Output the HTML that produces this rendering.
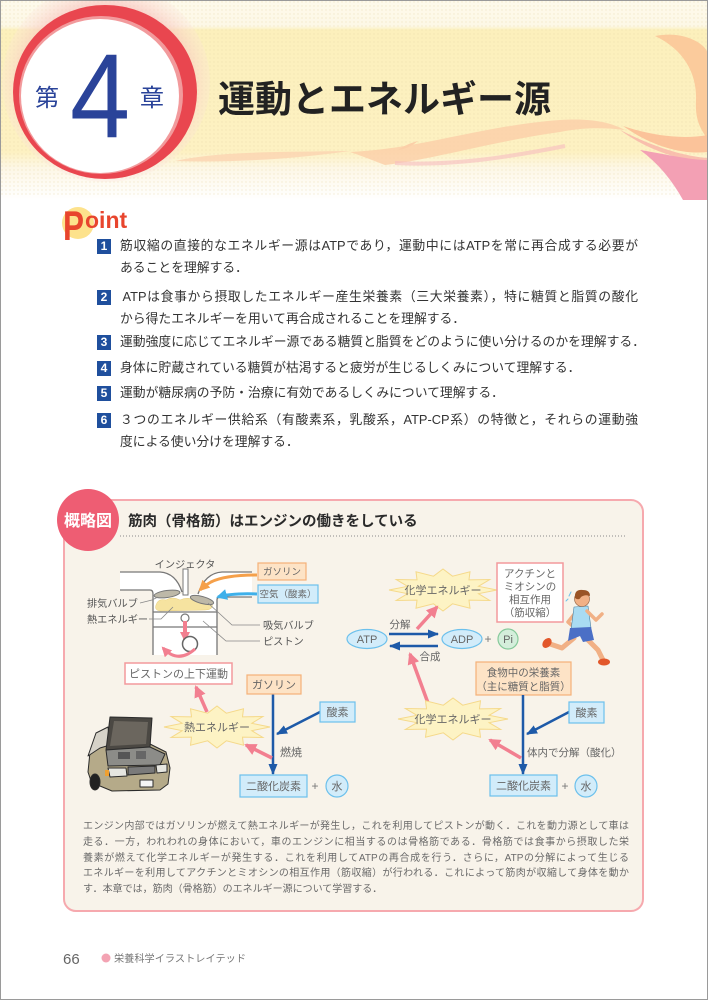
<!DOCTYPE html>
<html lang="ja"><head><meta charset="utf-8">
<style>
*{margin:0;padding:0;box-sizing:border-box}
html,body{width:708px;height:1000px;background:#fff;overflow:hidden}
body{position:relative;font-family:"Liberation Sans","Noto Sans CJK JP",sans-serif}
.frame{position:absolute;left:0;top:0;width:708px;height:1000px;border:1px solid #9a9a9a;pointer-events:none}
.pt{position:absolute;left:120px;font-size:12.8px;line-height:22px;color:#333;font-family:"Liberation Sans","Noto Sans CJK JP",sans-serif}
.j{text-align:justify;text-align-last:justify}
.nb{position:absolute;left:97px;width:14px;height:15px;background:#1f4f9d;color:#fff;font-weight:bold;font-size:12px;line-height:15px;text-align:center;font-family:"Liberation Sans",sans-serif}
.para{position:absolute;left:83px;font-size:10px;line-height:15.75px;color:#6a6a6a;font-family:"Liberation Sans","Noto Sans CJK JP",sans-serif}
svg text{font-family:"Liberation Sans","Noto Sans CJK JP",sans-serif}
</style></head>
<body>
<svg width="708" height="1000" style="position:absolute;left:0;top:0">
<defs>
 <linearGradient id="band" x1="0" y1="0" x2="0" y2="1">
  <stop offset="0" stop-color="#fefaec"/>
  <stop offset="0.13" stop-color="#fdf8e6"/>
  <stop offset="0.15" stop-color="#fcf0bc"/>
  <stop offset="0.76" stop-color="#fdf1c2"/>
  <stop offset="0.84" stop-color="#fdf7e6"/>
  <stop offset="1" stop-color="#ffffff"/>
 </linearGradient>
 <radialGradient id="glow" cx="0.5" cy="0.5" r="0.5">
  <stop offset="0.7" stop-color="#f6b6b2"/>
  <stop offset="1" stop-color="#fbe1da" stop-opacity="0.3"/>
 </radialGradient>
 <pattern id="dots" width="4" height="4" patternUnits="userSpaceOnUse"><circle cx="2" cy="2" r="0.7" fill="#e6d6a6" opacity="0.45"/></pattern>
 <marker id="mp" markerWidth="12" markerHeight="12" refX="10" refY="6" orient="auto" markerUnits="userSpaceOnUse"><path d="M0,0 L12,6 L0,12 z" fill="#f27f90"/></marker>
 <marker id="mb" markerWidth="11" markerHeight="9" refX="10" refY="4.5" orient="auto" markerUnits="userSpaceOnUse"><path d="M0,0 L11,4.5 L0,9 z" fill="#1e5aa8"/></marker>
 <marker id="mo" markerWidth="11" markerHeight="11" refX="9" refY="5.5" orient="auto" markerUnits="userSpaceOnUse"><path d="M0,0 L11,5.5 L0,11 z" fill="#f5a04a"/></marker>
 <marker id="ml" markerWidth="11" markerHeight="11" refX="9" refY="5.5" orient="auto" markerUnits="userSpaceOnUse"><path d="M0,0 L11,5.5 L0,11 z" fill="#3eb0ea"/></marker>
 <marker id="mp2" markerWidth="10" markerHeight="10" refX="8" refY="5" orient="auto" markerUnits="userSpaceOnUse"><path d="M0,0 L10,5 L0,10 z" fill="#f27f90"/></marker>
</defs>

<!-- HEADER -->
<rect x="0" y="0" width="708" height="200" fill="url(#band)"/>
<rect x="0" y="0" width="708" height="195" fill="url(#dots)"/>
<!-- wisps -->
<path d="M175,161 C220,151 285,152 350,151 C300,158 240,163 175,161 Z" fill="#fbd3b0" opacity="0.8"/>
<path d="M350,152 C420,149 480,126 560,120 C590,118 610,122 625,130 C600,127 580,128 560,132 C500,140 430,160 385,165 C372,160 362,156 350,152 Z" fill="#fbcea8" opacity="0.8"/>
<path d="M395,163 C450,166 505,158 565,146" fill="none" stroke="#f6bcc0" stroke-width="4" opacity="0.6"/>
<path d="M398,150 C404,146 410,143 418,141 C412,146 406,149 398,150 Z" fill="#fbcfa8"/>
<!-- right decorations -->
<path d="M655,36 C685,30 708,45 708,55 L708,140 C700,128 695,120 696,100 C697,75 685,50 655,36 Z" fill="#fbcb9c"/>
<path d="M623,126 C650,135 680,140 708,135 L708,152 C680,155 650,145 623,126 Z" fill="#fbc39a"/>
<path d="M620,130 C650,145 680,156 708,158 L708,162 C675,160 645,148 620,130 Z" fill="#f7b3a8" opacity="0.8"/>
<path d="M640,150 C670,155 690,160 708,160 L708,200 L683,200 C672,180 658,163 640,150 Z" fill="#f3a0b4"/>
<!-- chapter circle -->
<ellipse cx="106" cy="82" rx="104" ry="100" fill="url(#glow)" opacity="0.8"/>
<ellipse cx="105" cy="92" rx="92" ry="87" fill="#e9464f"/>
<ellipse cx="101" cy="95" rx="82" ry="79" fill="#f29a9c"/>
<ellipse cx="100" cy="96" rx="79" ry="77" fill="#ffffff"/>
<text x="35" y="106" font-size="24" fill="#2a4399">第</text>
<text transform="translate(70,137) scale(0.9,1)" font-size="120" fill="#2a4399" style="font-family:'Liberation Sans',sans-serif">4</text>
<text x="140" y="106" font-size="24" fill="#2a4399">章</text>
<text x="218" y="112" font-size="37" font-weight="bold" fill="#222">運動とエネルギー源</text>

<!-- POINT LOGO -->
<circle cx="78" cy="223" r="16" fill="#fde28c"/>
<text transform="translate(63,240) scale(0.75,1)" font-size="42" font-weight="bold" fill="#e8452d">P</text>
<text x="85" y="228" font-size="23" font-weight="bold" fill="#e8452d">oint</text>

<!-- DIAGRAM BOX -->
<rect x="64" y="500" width="579" height="411" rx="12" fill="#f8f3ea" stroke="#f6a9ae" stroke-width="2"/>
<circle cx="88" cy="520" r="31" fill="#ee5d73"/>
<text x="88" y="526" font-size="16" font-weight="bold" fill="#fff" text-anchor="middle">概略図</text>
<text x="128" y="526" font-size="14.5" font-weight="bold" fill="#2a2a2a">筋肉（骨格筋）はエンジンの働きをしている</text>
<line x1="120" y1="536" x2="627" y2="536" stroke="#8a8a8a" stroke-width="1" stroke-dasharray="1 2"/>

<!-- ENGINE -->
<g>
 <path d="M120,572 L160,572 Q176,573 182,592 L153,594 L153,590 L120,590 Z" fill="#fff"/>
 <path d="M252,572 L222,572 Q205,573 198,594 L217,600 L217,597 L252,597 Z" fill="#fff"/>
 <rect x="153" y="594" width="64" height="61" fill="#fff"/>
 <path d="M156,605 Q158,598 166,600 Q172,596 180,600 Q188,596 196,601 Q204,598 212,603 Q214,610 205,610 L160,611 Q154,610 156,605 Z" fill="#f6e3a0" stroke="#e8cf80" stroke-width="0.5"/>
 <g fill="none" stroke="#777" stroke-width="1.3">
  <path d="M120,572 L160,572 Q176,573 182,592"/>
  <path d="M120,590 L150,590 Q153,590 153,594 L153,655"/>
  <path d="M252,572 L222,572 Q205,573 198,594"/>
  <path d="M252,597 L220,597 Q217,597 217,600 L217,655"/>
  <line x1="153" y1="612" x2="217" y2="612"/>
  <line x1="153" y1="627" x2="217" y2="627"/>
 </g>
 <rect x="183" y="569" width="5" height="26" fill="#fff" stroke="#777" stroke-width="1"/>
 <ellipse cx="167" cy="594" rx="13" ry="3.5" transform="rotate(-8 167 594)" fill="#bdb8a8" stroke="#777" stroke-width="1"/>
 <ellipse cx="202" cy="600" rx="12" ry="3.5" transform="rotate(15 202 600)" fill="#bdb8a8" stroke="#777" stroke-width="1"/>
 <circle cx="185" cy="618" r="4" fill="#fff" stroke="#777" stroke-width="1.2"/>
 <line x1="185" y1="621" x2="185" y2="640" stroke="#f27f90" stroke-width="4" marker-end="url(#mp2)"/>
 <path d="M186,641 A8,8 0 0 0 186,649 Z" fill="#333"/>
 <circle cx="190" cy="644" r="7.5" fill="#fff" stroke="#666" stroke-width="1.5"/>
 <path d="M195,649 Q178,664 163,648" fill="none" stroke="#f27f90" stroke-width="3" marker-end="url(#mp2)"/>
 <g fill="none" stroke="#888" stroke-width="0.8">
  <path d="M140,603 L152,600 L158,597"/>
  <path d="M149,619 L161,619 L173,607"/>
  <path d="M260,625 L232,625 L208,603"/>
  <path d="M260,641 L226,641 L203,621"/>
 </g>
 <path d="M257,575 Q225,575 211,582 Q204,586 200,590" fill="none" stroke="#f5a04a" stroke-width="3" marker-end="url(#mo)"/>
 <path d="M257,594 Q232,593 218,597" fill="none" stroke="#3eb0ea" stroke-width="3" marker-end="url(#ml)"/>
 <rect x="258" y="563" width="48" height="17" fill="#fde3c6" stroke="#f4b178" stroke-width="1.2"/>
 <text x="282" y="575" font-size="9.5" fill="#666" text-anchor="middle">ガソリン</text>
 <rect x="258" y="585" width="60" height="18" fill="#d2ecfa" stroke="#6cc0ec" stroke-width="1.2"/>
 <text x="288" y="597.5" font-size="9.5" fill="#666" text-anchor="middle">空気（酸素）</text>
 <g font-size="10.2" fill="#555">
  <text x="185" y="568" text-anchor="middle">インジェクタ</text>
  <text x="87" y="607">排気バルブ</text>
  <text x="87" y="623">熱エネルギー</text>
  <text x="263" y="629">吸気バルブ</text>
  <text x="263" y="645">ピストン</text>
 </g>
</g>

<!-- LEFT FLOW -->
<rect x="125" y="663" width="107" height="21" fill="#fff" stroke="#f3999c" stroke-width="1.5"/>
<text x="178.5" y="677.5" font-size="11" fill="#666" text-anchor="middle">ピストンの上下運動</text>
<line x1="207" y1="712" x2="196" y2="687" stroke="#f27f90" stroke-width="3.5" marker-end="url(#mp)"/>
<polygon transform="translate(217,727) scale(53,21)" vector-effect="non-scaling-stroke" points="1,0 0.657,0.176 0.866,0.5 0.481,0.481 0.5,0.866 0.176,0.657 0,1 -0.176,0.657 -0.5,0.866 -0.481,0.481 -0.866,0.5 -0.657,0.176 -1,0 -0.657,-0.176 -0.866,-0.5 -0.481,-0.481 -0.5,-0.866 -0.176,-0.657 0,-1 0.176,-0.657 0.5,-0.866 0.481,-0.481 0.866,-0.5 0.657,-0.176" fill="#fdf3c4" stroke="#f5d98a" stroke-width="1"/>
<text x="217" y="731" font-size="11" fill="#666" text-anchor="middle">熱エネルギー</text>
<line x1="273" y1="694" x2="273" y2="774" stroke="#1e5aa8" stroke-width="2.5" marker-end="url(#mb)"/>
<line x1="320" y1="712" x2="277" y2="734" stroke="#1e5aa8" stroke-width="2.5" marker-end="url(#mb)"/>
<line x1="272" y1="758" x2="246" y2="745" stroke="#f27f90" stroke-width="3.5" marker-end="url(#mp)"/>
<rect x="247" y="675" width="54" height="19" fill="#fde3c6" stroke="#f4b178" stroke-width="1.2"/>
<text x="274" y="688.5" font-size="11" fill="#666" text-anchor="middle">ガソリン</text>
<rect x="320" y="702" width="35" height="20" fill="#d2ecfa" stroke="#6cc0ec" stroke-width="1.2"/>
<text x="337.5" y="716" font-size="11" fill="#666" text-anchor="middle">酸素</text>
<text x="280" y="756" font-size="11" fill="#666">燃焼</text>
<rect x="240" y="775" width="67" height="22" fill="#d2ecfa" stroke="#6cc0ec" stroke-width="1.2"/>
<text x="273.5" y="790" font-size="11" fill="#666" text-anchor="middle">二酸化炭素</text>
<text x="315" y="790" font-size="12" fill="#777" text-anchor="middle">+</text>
<circle cx="337" cy="786" r="11" fill="#d2ecfa" stroke="#6cc0ec" stroke-width="1.2"/>
<text x="337" y="790" font-size="11" fill="#666" text-anchor="middle">水</text>

<!-- CAR -->
<g stroke="#2b2b2b" stroke-width="1" stroke-linejoin="round">
 <path d="M88,772 L90,752 L100,740 L112,745 L150,744 L166,752 L170,768 L168,784 L160,790 L112,791 L100,786 L92,784 Z" fill="#b5aa89"/>
 <path d="M88,756 L96,733 L108,727 L110,745 L100,748 Z" fill="#d6d2c8"/>
 <path d="M110,717 L152,718 L150,747 L106,750 Z" fill="#4b4843"/>
 <path d="M114,721 L148,722 L146,744 L110,746 Z" fill="#6b665e" stroke="none"/>
 <path d="M106,750 L150,747 L165,754 L160,765 L108,766 Z" fill="#8c8c88"/>
 <rect x="118" y="752" width="12" height="7" fill="#555" stroke="none"/>
 <rect x="136" y="751" width="10" height="8" fill="#666" stroke="none"/>
 <path d="M108,768 L126,768 L127,776 L110,777 Z" fill="#e6e6e0"/>
 <path d="M156,765 L167,764 L167,772 L157,773 Z" fill="#e6e6e0"/>
 <rect x="105" y="770" width="4" height="6" fill="#f0a030" stroke="none"/>
 <path d="M128,767 L155,766 L155,773 L128,775 Z" fill="#7a7a7a"/>
 <rect x="140" y="780" width="13" height="7" fill="#f5f5f5"/>
 <ellipse cx="95" cy="782" rx="5" ry="8" fill="#222"/>
</g>

<!-- RIGHT FLOW -->
<polygon transform="translate(443,590) scale(54,21)" vector-effect="non-scaling-stroke" points="1,0 0.657,0.176 0.866,0.5 0.481,0.481 0.5,0.866 0.176,0.657 0,1 -0.176,0.657 -0.5,0.866 -0.481,0.481 -0.866,0.5 -0.657,0.176 -1,0 -0.657,-0.176 -0.866,-0.5 -0.481,-0.481 -0.5,-0.866 -0.176,-0.657 0,-1 0.176,-0.657 0.5,-0.866 0.481,-0.481 0.866,-0.5 0.657,-0.176" fill="#fdf3c4" stroke="#f5d98a" stroke-width="1"/>
<text x="443" y="594" font-size="11" fill="#666" text-anchor="middle">化学エネルギー</text>
<rect x="497" y="563" width="66" height="59" fill="#fff" stroke="#f3999c" stroke-width="1.5"/>
<g font-size="10.5" fill="#666" text-anchor="middle">
 <text x="530" y="577">アクチンと</text>
 <text x="530" y="590">ミオシンの</text>
 <text x="530" y="603">相互作用</text>
 <text x="530" y="616">（筋収縮）</text>
</g>
<line x1="417" y1="629" x2="437" y2="607" stroke="#f27f90" stroke-width="3.5" marker-end="url(#mp)"/>
<text x="400" y="628" font-size="10.5" fill="#666" text-anchor="middle">分解</text>
<ellipse cx="367" cy="639" rx="20" ry="9.5" fill="#d2ecfa" stroke="#6cc0ec" stroke-width="1.2"/>
<text x="367" y="643" font-size="11" fill="#666" text-anchor="middle">ATP</text>
<line x1="389" y1="634" x2="438" y2="634" stroke="#1e5aa8" stroke-width="2.5" marker-end="url(#mb)"/>
<line x1="438" y1="646" x2="390" y2="646" stroke="#1e5aa8" stroke-width="2.5" marker-end="url(#mb)"/>
<ellipse cx="462" cy="639" rx="20" ry="9.5" fill="#d2ecfa" stroke="#6cc0ec" stroke-width="1.2"/>
<text x="462" y="643" font-size="11" fill="#666" text-anchor="middle">ADP</text>
<text x="488" y="643" font-size="12" fill="#777" text-anchor="middle">+</text>
<circle cx="508" cy="639" r="10" fill="#d4eedb" stroke="#86c99a" stroke-width="1.2"/>
<text x="508" y="643" font-size="11" fill="#666" text-anchor="middle">Pi</text>
<text x="430" y="660" font-size="10.5" fill="#666" text-anchor="middle">合成</text>
<line x1="428" y1="703" x2="410" y2="654" stroke="#f27f90" stroke-width="3.5" marker-end="url(#mp)"/>

<rect x="476" y="662" width="95" height="33" fill="#fde3c6" stroke="#f4b178" stroke-width="1.2"/>
<text x="523.5" y="676" font-size="10.5" fill="#666" text-anchor="middle">食物中の栄養素</text>
<text x="523.5" y="690" font-size="10.5" fill="#666" text-anchor="middle">（主に糖質と脂質）</text>
<polygon transform="translate(453,719) scale(55,21)" vector-effect="non-scaling-stroke" points="1,0 0.657,0.176 0.866,0.5 0.481,0.481 0.5,0.866 0.176,0.657 0,1 -0.176,0.657 -0.5,0.866 -0.481,0.481 -0.866,0.5 -0.657,0.176 -1,0 -0.657,-0.176 -0.866,-0.5 -0.481,-0.481 -0.5,-0.866 -0.176,-0.657 0,-1 0.176,-0.657 0.5,-0.866 0.481,-0.481 0.866,-0.5 0.657,-0.176" fill="#fdf3c4" stroke="#f5d98a" stroke-width="1"/>
<text x="453" y="723" font-size="11" fill="#666" text-anchor="middle">化学エネルギー</text>
<line x1="523" y1="695" x2="523" y2="774" stroke="#1e5aa8" stroke-width="2.5" marker-end="url(#mb)"/>
<line x1="569" y1="712" x2="527" y2="734" stroke="#1e5aa8" stroke-width="2.5" marker-end="url(#mb)"/>
<line x1="521" y1="758" x2="490" y2="740" stroke="#f27f90" stroke-width="3.5" marker-end="url(#mp)"/>
<rect x="569" y="702" width="35" height="21" fill="#d2ecfa" stroke="#6cc0ec" stroke-width="1.2"/>
<text x="586.5" y="716.5" font-size="11" fill="#666" text-anchor="middle">酸素</text>
<text x="527" y="756" font-size="10.5" fill="#666">体内で分解（酸化）</text>
<rect x="490" y="775" width="67" height="21" fill="#d2ecfa" stroke="#6cc0ec" stroke-width="1.2"/>
<text x="523.5" y="789.5" font-size="11" fill="#666" text-anchor="middle">二酸化炭素</text>
<text x="565" y="790" font-size="12" fill="#777" text-anchor="middle">+</text>
<circle cx="586" cy="786" r="11" fill="#d2ecfa" stroke="#6cc0ec" stroke-width="1.2"/>
<text x="586" y="790" font-size="11" fill="#666" text-anchor="middle">水</text>

<!-- RUNNER -->
<g stroke-linecap="round" stroke-linejoin="round">
 <polyline points="574,638 562,648 550,644" fill="none" stroke="#f1b085" stroke-width="5"/>
 <polyline points="588,640 598,650 603,660" fill="none" stroke="#f1b085" stroke-width="5"/>
 <ellipse cx="547" cy="643" rx="5.5" ry="4" transform="rotate(-50 547 643)" fill="#e2572b"/>
 <ellipse cx="604" cy="662" rx="6" ry="3.5" fill="#e2572b"/>
 <polyline points="576,612 568,622 575,628" fill="none" stroke="#f1b085" stroke-width="3.5"/>
 <path d="M574,607 L588,606 L591,628 L571,630 Z" fill="#a9dbf2" stroke="#4a7fa0" stroke-width="0.6"/>
 <path d="M570,628 L591,627 L594,640 L583,642 L580,636 L568,641 Z" fill="#4b6fc6"/>
 <polyline points="587,611 596,620 602,614" fill="none" stroke="#f1b085" stroke-width="3.5"/>
 <circle cx="582" cy="599" r="7.5" fill="#f1b085" stroke="#8a5a3a" stroke-width="0.6"/>
 <path d="M575,598 Q574,589 583,590 Q590,590 590,596 Q585,594 581,597 Q579,601 575,598 Z" fill="#9a5426"/>
 <path d="M571,592 L569,596 M568,599 L566,601" stroke="#6cc0ec" stroke-width="1"/>
</g>

<!-- FOOTER -->
<text x="63" y="964" font-size="15" fill="#666" style="font-family:'Liberation Sans',sans-serif">66</text>
<circle cx="106" cy="958" r="4.5" fill="#f3a3b3"/>
<text x="114" y="962" font-size="10.2" fill="#777">栄養科学イラストレイテッド</text>
</svg>

<!-- POINT ITEMS -->
<div class="nb" style="top:238.5px">1</div>
<div class="pt j" style="top:235px;width:518px">筋収縮の直接的なエネルギー源はATPであり，運動中にはATPを常に再合成する必要が</div>
<div class="pt" style="top:257px">あることを理解する．</div>
<div class="nb" style="top:289.5px">2</div>
<div class="pt j" style="top:286px;width:518px">&#8201;ATPは食事から摂取したエネルギー産生栄養素（三大栄養素），特に糖質と脂質の酸化</div>
<div class="pt" style="top:308px">から得たエネルギーを用いて再合成されることを理解する．</div>
<div class="nb" style="top:334.5px">3</div>
<div class="pt j" style="top:331px;width:525px">運動強度に応じてエネルギー源である糖質と脂質をどのように使い分けるのかを理解する．</div>
<div class="nb" style="top:360.5px">4</div>
<div class="pt" style="top:357px">身体に貯蔵されている糖質が枯渇すると疲労が生じるしくみについて理解する．</div>
<div class="nb" style="top:385.5px">5</div>
<div class="pt" style="top:382px">運動が糖尿病の予防・治療に有効であるしくみについて理解する．</div>
<div class="nb" style="top:412.5px">6</div>
<div class="pt j" style="top:409px;width:518px">３つのエネルギー供給系（有酸素系，乳酸系，ATP-CP系）の特徴と，それらの運動強</div>
<div class="pt" style="top:431px">度による使い分けを理解する．</div>

<!-- PARAGRAPH -->
<div class="para j" style="top:819px;width:546px">エンジン内部ではガソリンが燃えて熱エネルギーが発生し，これを利用してピストンが動く．これを動力源として車は</div>
<div class="para j" style="top:834.75px;width:546px">走る．一方，われわれの身体において，車のエンジンに相当するのは骨格筋である．骨格筋では食事から摂取した栄</div>
<div class="para j" style="top:850.5px;width:546px">養素が燃えて化学エネルギーが発生する．これを利用してATPの再合成を行う．さらに，ATPの分解によって生じる</div>
<div class="para j" style="top:866.25px;width:546px">エネルギーを利用してアクチンとミオシンの相互作用（筋収縮）が行われる．これによって筋肉が収縮して身体を動か</div>
<div class="para" style="top:882px">す．本章では，筋肉（骨格筋）のエネルギー源について学習する．</div>

<div class="frame"></div>
</body></html>
